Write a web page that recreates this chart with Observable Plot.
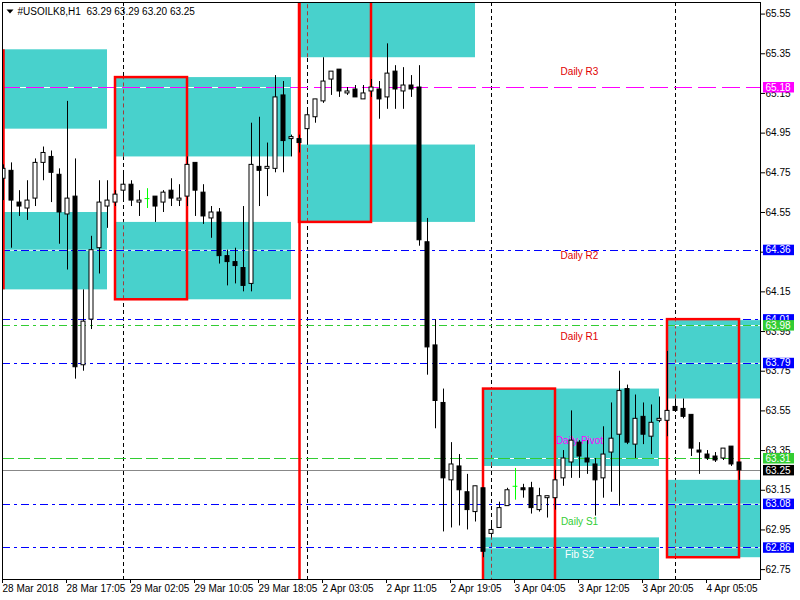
<!DOCTYPE html>
<html><head><meta charset="utf-8">
<script src="https://cdn.jsdelivr.net/npm/d3@7"></script>
<script src="https://cdn.jsdelivr.net/npm/@observablehq/plot@0.6"></script>
<style>
html,body{margin:0;padding:0;background:#fff;}
#chart svg{display:block;}
</style>
</head><body><div id="chart"></div>
<script>
// ---- candle data (H1 bars, index 0..92) ----
const opens  = [64.72,64.76,64.60,64.57,64.62,64.80,64.83,64.74,64.54,64.63,63.78,64.01,64.37,64.58,64.60,64.66,64.69,64.60,64.62,64.63,64.60,64.66,64.61,64.63,64.80,64.65,64.52,64.55,64.33,64.30,64.27,64.19,64.78,64.77,64.77,65.14,64.92,64.92,64.97,65.03,65.11,65.22,65.27,65.15,65.17,65.12,65.16,65.17,65.13,65.26,65.16,65.19,65.18,64.40,63.88,63.59,63.20,63.27,63.14,63.04,63.16,62.93,62.96,63.07,63.17,63.16,63.16,63.05,63.11,63.11,63.21,63.29,63.39,63.31,63.28,63.21,63.34,63.43,63.66,63.38,63.52,63.42,63.50,63.50,63.57,63.56,63.53,63.35,63.33,63.32,63.31,63.37,63.29];
const highs  = [64.79,64.80,64.66,64.71,64.82,64.88,64.86,64.77,65.11,64.82,64.16,64.43,64.71,64.71,64.66,64.75,64.71,64.66,64.67,64.63,64.66,64.72,64.69,64.83,64.80,64.69,64.58,64.57,64.36,64.37,64.58,65.00,65.03,64.90,65.24,65.21,64.94,64.94,65.06,65.12,65.33,65.26,65.27,65.18,65.19,65.19,65.22,65.21,65.40,65.29,65.28,65.24,65.29,64.52,64.01,63.66,63.39,63.33,63.23,63.17,63.16,62.98,63.09,63.16,63.26,63.18,63.19,63.16,63.12,63.25,63.35,63.55,63.40,63.40,63.31,63.47,63.59,63.75,63.68,63.63,63.59,63.58,63.62,63.85,63.61,63.61,63.53,63.39,63.35,63.34,63.36,63.37,63.29];
const lows   = [64.61,64.37,64.53,64.51,64.58,64.71,64.60,64.39,64.26,63.71,63.75,63.96,64.24,64.47,64.58,64.61,64.58,64.53,64.57,64.50,64.55,64.58,64.58,64.58,64.53,64.49,64.42,64.29,64.18,64.19,64.15,64.15,64.58,64.63,64.75,64.75,64.83,64.85,64.89,65.00,65.10,65.14,65.13,65.14,65.13,65.12,65.13,65.02,65.07,65.07,65.07,65.13,64.38,63.73,63.46,62.94,62.96,62.97,62.95,62.99,62.81,62.91,62.96,63.07,63.10,63.11,63.03,63.04,63.01,63.05,63.17,63.21,63.21,63.23,63.02,63.11,63.14,63.07,63.38,63.31,63.38,63.33,63.49,63.42,63.55,63.51,63.32,63.23,63.30,63.29,63.30,63.27,63.20];
const closes = [64.77,64.61,64.58,64.61,64.80,64.85,64.75,64.55,64.62,63.77,64.00,64.36,64.60,64.61,64.64,64.69,64.61,64.61,64.62,64.58,64.65,64.62,64.62,64.79,64.66,64.53,64.55,64.33,64.30,64.28,64.18,64.79,64.76,64.78,65.13,64.91,64.93,64.90,65.04,65.12,65.21,65.26,65.16,65.16,65.13,65.15,65.18,65.12,65.25,65.17,65.19,65.17,64.41,63.87,63.60,63.21,63.28,63.15,63.05,63.17,62.84,62.95,63.06,63.15,63.17,63.15,63.06,63.12,63.12,63.20,63.31,63.40,63.32,63.29,63.20,63.33,63.41,63.65,63.39,63.51,63.43,63.49,63.51,63.55,63.55,63.52,63.36,63.34,63.31,63.30,63.36,63.28,63.25];

// ---- time axis ----
const tickBars   = [0,8,16,24,32,40,48,56,64,72,80,88];
const tickLabels = ["28 Mar 2018","28 Mar 17:05","29 Mar 02:05","29 Mar 10:05","29 Mar 18:05","2 Apr 03:05","2 Apr 11:05","2 Apr 19:05","3 Apr 04:05","3 Apr 12:05","3 Apr 20:05","4 Apr 05:05"];
const separatorBars = [15,38,61,84];

// ---- price axis ----
const priceTicks = [65.55,65.35,65.15,64.95,64.75,64.55,64.35,64.15,63.95,63.75,63.55,63.35,63.15,62.95,62.75];

// ---- cyan zones ----
const zoneStart  = [0,0,14,14,37,37,60,60,83,83];
const zoneEnd    = [13,13,36,36,59,59,82,82,96,96];
const zoneTop    = [65.37,64.55,65.23,64.50,65.73,64.89,63.66,62.91,64.01,63.20];
const zoneBottom = [64.97,64.16,64.83,64.11,65.33,64.50,63.27,62.51,63.61,62.81];

// ---- red range boxes ----
const rangeStart  = [14,37,60,83];
const rangeEnd    = [23,46,69,92];
const rangeTop    = [65.23,65.73,63.66,64.01];
const rangeBottom = [64.11,64.50,62.51,62.81];
const edgeBars    = [0,37];
const edgeTop     = [65.37,65.73];
const edgeBottom  = [64.16,62.51];

// ---- horizontal levels ----
const levelPrices = [65.18,64.36,64.01,63.98,63.79,63.31,63.25,63.08,62.86];
const levelColors = ["magenta","#0000ff","#0000ff","#32cd32","#0000ff","#32cd32","#888888","#0000ff","#0000ff"];
const levelDashes = ["18,6","8,4,3,4","8,4,3,4","8,4,3,4","8,4,3,4","12,4",null,"8,4,3,4","8,4,3,4"];
const tagColors   = ["magenta","#0000ff","#0000ff","#32cd32","#0000ff","#32cd32","#000000","#0000ff","#0000ff"];

// ---- level notes ----
const noteTexts  = ["Daily R3","Daily R2","Daily R1","Daily Pivot","Daily S1","Fib S2"];
const notePrices = [65.26,64.33,63.925,63.40,62.99,62.826];
const noteColors = ["#e00000","#e00000","#e00000","#ff00ff","#32cd32","#ffffff"];
const noteBar = 72;

const titleSymbol = "#USOILK8,H1";
const titleOHLC = "63.29 63.29 63.20 63.25";

// ---- build tables ----
const candles = opens.map((o,i)=>({i, o, h:highs[i], l:lows[i], c:closes[i]}));
const up = candles.filter(d=>d.c>d.o), down = candles.filter(d=>d.c<d.o), doji = candles.filter(d=>d.c===d.o);
const zones = zoneStart.map((s,i)=>({s, e:zoneEnd[i], t:zoneTop[i], b:zoneBottom[i]}));
const ranges = rangeStart.map((s,i)=>({s, e:rangeEnd[i], t:rangeTop[i], b:rangeBottom[i]}));
const edges = edgeBars.map((x,i)=>({x, t:edgeTop[i], b:edgeBottom[i]}));
const sepSegs = [];
separatorBars.forEach(x=>zones.forEach(z=>{ if (x>=z.s && x<=z.e) sepSegs.push({x, t:z.t, b:z.b}); }));
const levels = levelPrices.map((p,i)=>({p, color:levelColors[i], dash:levelDashes[i], tag:tagColors[i]}));
const notes = noteTexts.map((t,i)=>({t, p:notePrices[i], c:noteColors[i]}));

const tagSymbol = {draw(ctx){ ctx.moveTo(-15.5,-5.5); ctx.lineTo(15.5,-5.5); ctx.lineTo(15.5,5); ctx.lineTo(-15.5,5); ctx.closePath(); }};
const downTri = {draw(ctx){ ctx.moveTo(-3.5,-2); ctx.lineTo(3.5,-2); ctx.lineTo(0,2); ctx.closePath(); }};

const marks = [
  Plot.ruleX(separatorBars, {x:d=>d, stroke:"black", strokeDasharray:"4,3"}),
  Plot.rect(zones, {x1:"s", x2:"e", y1:"b", y2:"t", fill:"#48d1cc", clip:true}),
  Plot.ruleX(sepSegs, {x:"x", y1:"b", y2:"t", stroke:"#a03c3c", strokeDasharray:"4,3", clip:true}),
  Plot.ruleY(levels.filter(l=>l.dash), {y:"p", stroke:"white"}),
  ...levels.map(l=>Plot.ruleY([l], {y:"p", stroke:l.color, strokeDasharray:l.dash || undefined, shapeRendering:"crispEdges"})),
  Plot.rect(ranges, {x1:"s", x2:"e", y1:"b", y2:"t", fill:"none", stroke:"red", strokeWidth:2.5, clip:true}),
  Plot.ruleX(edges, {x:"x", y1:"b", y2:"t", stroke:"red", strokeWidth:2.5, clip:true}),
  Plot.text(notes, {x:()=>noteBar, y:"p", text:"t", fill:"c", fontSize:10}),
  Plot.ruleX(up.concat(down), {x:"i", y1:"l", y2:"h", stroke:"black", clip:true}),
  Plot.ruleX(doji, {x:"i", y1:"l", y2:"h", stroke:"#00ff00", clip:true}),
  Plot.rect(up, {x1:d=>d.i-0.25, x2:d=>d.i+0.25, y1:"o", y2:"c", fill:"white", stroke:"black", clip:true}),
  Plot.rect(down, {x1:d=>d.i-0.25, x2:d=>d.i+0.25, y1:"o", y2:"c", fill:"black", stroke:"black", clip:true}),
  Plot.ruleY(doji, {y:"o", x1:d=>d.i-0.3, x2:d=>d.i+0.3, stroke:"#00ff00", clip:true}),
  Plot.frame({stroke:"black"}),
  Plot.axisY(priceTicks, {anchor:"right", tickSize:4, tickPadding:1, tickFormat:d=>d.toFixed(2), fontSize:10, label:null}),
  Plot.axisX(tickBars, {anchor:"bottom", tickSize:4, tickPadding:1, tickFormat:d=>tickLabels[tickBars.indexOf(d)], textAnchor:"start", dx:-1, fontSize:10, label:null}),
  ...levels.flatMap(l=>[
    Plot.dot([l], {y:"p", frameAnchor:"right", dx:18, r:5, symbol:tagSymbol, fill:l.tag, stroke:null}),
    Plot.text([l], {y:"p", frameAnchor:"right", dx:5, text:d=>d.p.toFixed(2), textAnchor:"start", fill:"white", fontSize:10})
  ]),
  Plot.dot([0], {frameAnchor:"top-left", dx:7.5, dy:9, r:4, symbol:downTri, fill:"black", stroke:null}),
  Plot.text([titleSymbol], {text:d=>d, frameAnchor:"top-left", dx:15, dy:9, textAnchor:"start", lineAnchor:"middle", fontSize:10, fill:"black"}),
  Plot.text([titleOHLC], {text:d=>d, frameAnchor:"top-left", dx:84, dy:9, textAnchor:"start", lineAnchor:"middle", fontSize:10, fill:"black"})
];

const chart = Plot.plot({
  width:800, height:600,
  marginLeft:2, marginRight:40, marginTop:2, marginBottom:21,
  x:{domain:[-0.125, 94.625], axis:null},
  y:{domain:[62.7002, 65.6084], axis:null},
  style:{fontFamily:"'Liberation Sans', Arial, sans-serif", fontSize:"10px", background:"white", color:"black", overflow:"visible"},
  marks
});
document.getElementById("chart").appendChild(chart);
</script>
</body></html>
